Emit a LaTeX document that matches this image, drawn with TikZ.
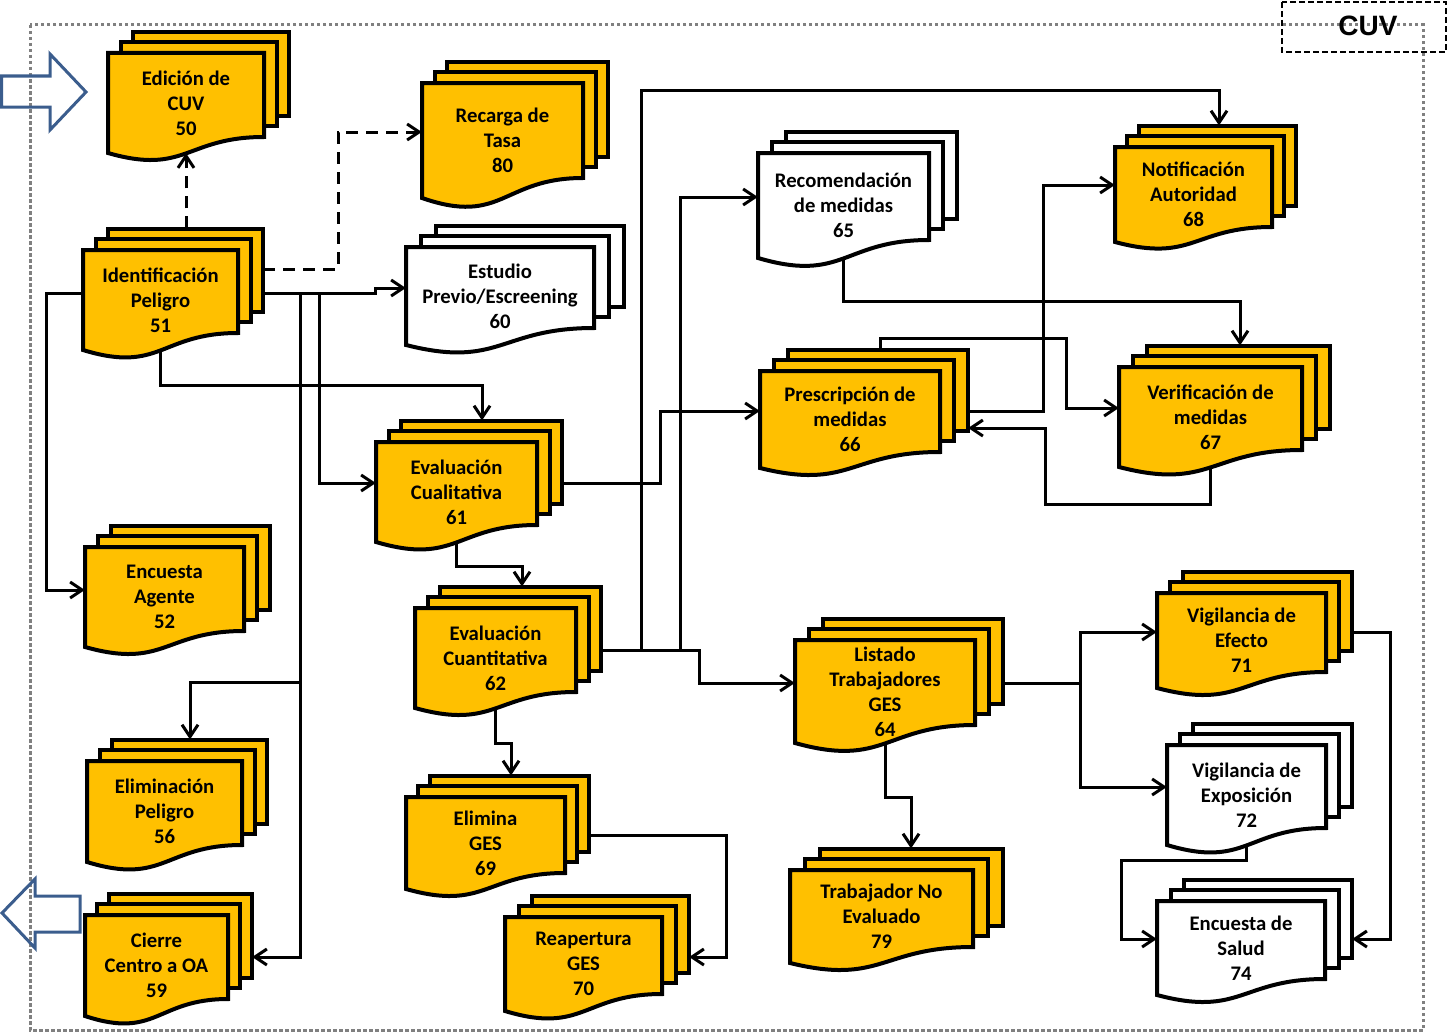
\documentclass[tikz,border=0pt]{standalone}
\usepackage{fontspec}
\setmainfont{Carlito}
\newfontfamily\cuvfont{Liberation Sans}
\usetikzlibrary{arrows.meta}
\definecolor{docyellow}{RGB}{255,192,0}
\definecolor{bordergray}{RGB}{128,128,128}
\definecolor{arrowblue}{RGB}{59,93,141}
\tikzset{
  docline/.style={draw=black, line width=4pt, line join=miter},
  doctext/.style={inner sep=0pt, align=center, font=\bfseries\fontsize{20.7}{25}\selectfont},
  backnode/.style={inner sep=0pt, draw=none},
  conn/.style={line width=3pt, -{Straight Barb[length=12pt,width=16pt]}},
  dconn/.style={conn, dash pattern=on 12pt off 8pt},
  bluearrow/.style={draw=arrowblue, line width=3pt, line join=miter},
  outerborder/.style={draw=bordergray, line width=3pt, dash pattern=on 3.5pt off 2.5pt},
  cuvbox/.style={draw=black, line width=2pt, dash pattern=on 6pt off 3pt}
}
% #1 name, #2 L, #3 T, #4 R, #5 right-bottom, #6 left-bottom, #7 fill, #8 dx, #9 text
\newcommand\mdoc[9]{%
  \path[docline,fill=#7] ({#2+2*#8},{#3-21.4}) rectangle ({#4+2*#8},{#5-21.4});
  \path[docline,fill=#7] ({#2+#8},{#3-10.7}) rectangle ({#4+#8},{#5-10.7});
  \path[docline,fill=#7] (#2,#3) -- (#4,#3) -- (#4,#5)
     .. controls ({(#2+#4)/2},#5) and ({(#2+#4)/2},{#6+1.4*(#6-#5)}) .. (#2,#6) -- cycle;
  \node[doctext, minimum width={(#4-#2)*1pt}, minimum height={(#6-#3)*1pt}]
     (#1) at ({(#2+#4)/2},{(#3+#6)/2}) {#9};
  \node[backnode, minimum width={(#4-#2)*1pt}, minimum height={(#5-#3)*1pt}]
     (#1b) at ({(#2+#4)/2+2*#8},{(#3+#5)/2-21.4}) {};
}
\begin{document}
\begin{tikzpicture}[x=1pt,y=-1pt]
\useasboundingbox (0,0) rectangle (1448,1033);
% outer dotted frame
\draw[outerborder] (30,25) rectangle (1423,1030);
% CUV label box
\draw[cuvbox] (1282,2) rectangle (1446,52);
\node[font=\cuvfont\bfseries\fontsize{28}{30}\selectfont, inner sep=0pt] (cuv) at (1368,26) {CUV};
% blue block arrows
\draw[bluearrow] (1.5,76) -- (50,76) -- (50,54) -- (86,92) -- (50,130) -- (50,107) -- (1.5,107) -- cycle;
\draw[bluearrow] (2,913) -- (35,879) -- (35,896) -- (80,896) -- (80,932) -- (35,932) -- (35,948) -- cycle;

% documents
\mdoc{n50}{108}{53}{264}{137}{153}{docyellow}{12.5}{Edición de\\CUV\\50}
\mdoc{n51}{83}{250}{238}{333}{350}{docyellow}{12.5}{Identificación\\Peligro\\51}
\mdoc{n80}{422}{83}{583}{178}{198}{docyellow}{12.5}{Recarga de\\Tasa\\80}
\mdoc{n60}{406}{247}{594}{328}{345}{white}{15}{Estudio\\Previo/Escreening\\60}
\mdoc{n61}{376}{442}{537}{525}{542}{docyellow}{12.5}{Evaluación\\Cualitativa\\61}
\mdoc{n52}{85}{547}{244}{631}{647}{docyellow}{13}{Encuesta\\Agente\\52}
\mdoc{n62}{415}{608}{576}{692}{708}{docyellow}{12.5}{Evaluación\\Cuantitativa\\62}
\mdoc{n56}{87}{761}{242}{845}{862}{docyellow}{12.5}{Eliminación\\Peligro\\56}
\mdoc{n59}{85}{915}{228}{999}{1016}{docyellow}{12}{Cierre\\Centro a OA\\59}
\mdoc{n69}{406}{797}{565}{873}{889}{docyellow}{12}{Elimina\\GES\\69}
\mdoc{n70}{505}{917}{662}{994}{1011}{docyellow}{13.5}{Reapertura\\GES\\70}
\mdoc{n65}{758}{153}{929}{240}{258}{white}{14}{Recomendación\\de medidas\\65}
\mdoc{n66}{760}{371}{940}{452}{468}{docyellow}{14}{Prescripción de\\medidas\\66}
\mdoc{n64}{795}{640}{975}{725}{743}{docyellow}{14}{Listado\\Trabajadores\\GES\\64}
\mdoc{n79}{790}{870}{973}{947}{963}{docyellow}{15}{Trabajador No\\Evaluado\\79}
\mdoc{n68}{1115}{147}{1272}{227}{242}{docyellow}{12}{Notificación\\Autoridad\\68}
\mdoc{n67}{1119}{367}{1302}{450}{467}{docyellow}{14}{Verificación de\\medidas\\67}
\mdoc{n71}{1157}{593}{1326}{672}{688}{docyellow}{13}{Vigilancia de\\Efecto\\71}
\mdoc{n72}{1167}{745}{1326}{828}{845}{white}{13}{Vigilancia de\\Exposición\\72}
\mdoc{n74}{1157}{901}{1325}{979}{995}{white}{13.5}{Encuesta de\\Salud\\74}

% junctions
\coordinate (j300) at (300,293);
\coordinate (j319) at (319,293);
\coordinate (j682) at (300,682);
\coordinate (j641) at (641,650);
\coordinate (j680) at (680,650);
\coordinate (j1080) at (1080,683);

% connectors
\draw[dconn] (186,0 |- n51b.north) -- (n50.south);
\draw[dconn] (n51b.east |- 0,269) -- (338,269) -- (338,132) -- (n80.west |- 0,132);
\draw[conn] (n51b.east |- 0,293) -- (375,293) -- (375,288) -- (n60.west |- 0,288);
\draw[conn] (n51.west |- 0,293) -- (46,293) -- (46,590) -- (n52.west |- 0,590);
\draw[conn] (n51.south) |- (482,385) -- (482,0 |- n61b.north);
\draw[conn] (j319) -- (319,483) -- (n61.west |- 0,483);
\draw[conn] (j300) -- (300,957) -- (n59b.east |- 0,957);
\draw[conn] (j682) -- (190,682) -- (190,0 |- n56b.north);
\draw[conn] (n61.south) |- (522,566) -- (522,0 |- n62b.north);
\draw[conn] (n61b.east |- 0,483) -- (660,483) -- (660,411) -- (n66.west |- 0,411);
\draw[conn] (n62b.east |- 0,650) -- (699,650) -- (699,683) -- (n64.west |- 0,683);
\draw[conn] (j641) -- (641,90) -- (1219,90) -- (1219,0 |- n68b.north);
\draw[conn] (j680) -- (680,197) -- (n65.west |- 0,197);
\draw[conn] (n62.south) |- (511,743) -- (511,0 |- n69b.north);
\draw[conn] (n69b.east |- 0,835) -- (726,835) -- (726,957) -- (n70b.east |- 0,957);
\draw[conn] (n65.south) |- (1240,301) -- (1240,0 |- n67b.north);
\draw[conn] (n66b.east |- 0,411) -- (1043,411) -- (1043,185) -- (n68.west |- 0,185);
\draw[conn] (880,0 |- n66b.north) -- (880,338) -- (1066,338) -- (1066,408) -- (n67.west |- 0,408);
\draw[conn] (n67.south) |- (1045,504) -- (1045,428) -- (n66b.east |- 0,428);
\draw[conn] (n64.south) |- (911,797) -- (911,0 |- n79b.north);
\draw[conn] (n64b.east |- 0,683) -- (1080,683) -- (1080,632) -- (n71.west |- 0,632);
\draw[conn] (j1080) -- (1080,787) -- (n72.west |- 0,787);
\draw[conn] (n71b.east |- 0,632) -- (1390,632) -- (1390,939) -- (n74b.east |- 0,939);
\draw[conn] (n72.south) |- (1121,860) -- (1121,939) -- (n74.west |- 0,939);
\end{tikzpicture}
\end{document}
